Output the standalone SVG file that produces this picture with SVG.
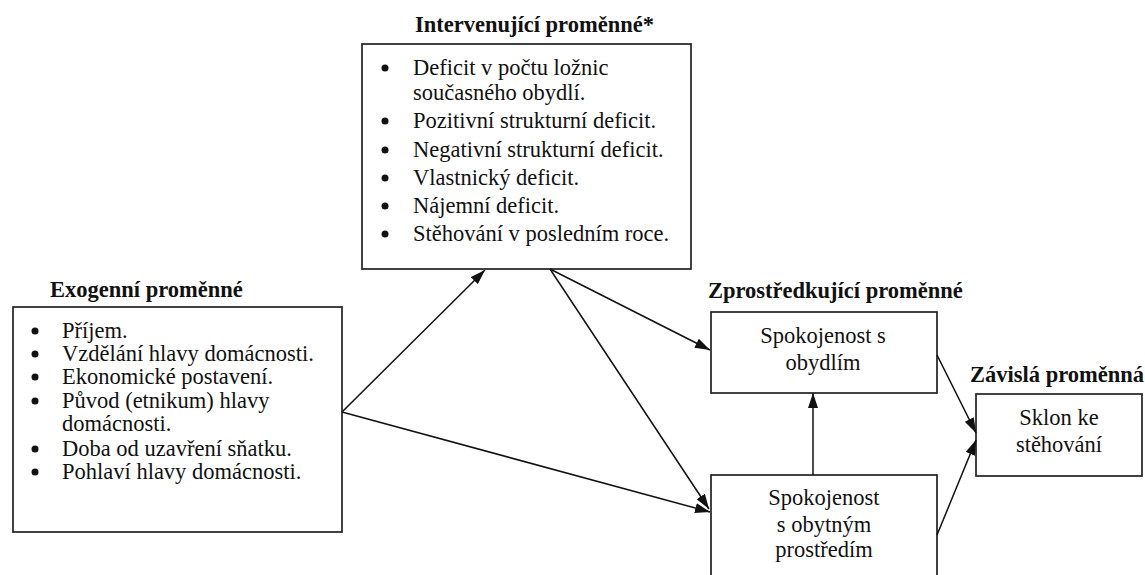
<svg xmlns="http://www.w3.org/2000/svg" width="1145" height="575" viewBox="0 0 1145 575">
<defs>
<marker id="ah" viewBox="0 0 15 10" refX="15" refY="5" markerWidth="15" markerHeight="10" markerUnits="userSpaceOnUse" orient="auto">
<path d="M0,0 L15,5 L0,10 z" fill="#111"/>
</marker>
<style>
.box{fill:#fff;stroke:#222;stroke-width:1.7}
text{font-family:'Liberation Serif','Times New Roman',serif;fill:#111}
.t{font-size:22.5px}
.h{font-size:22.5px;font-weight:bold}
.c{text-anchor:middle}
.dot{fill:#111}
.con{stroke:#111;stroke-width:1.5;fill:none;marker-end:url(#ah)}
</style>
</defs>
<rect width="1145" height="575" fill="#fff"/>
<g id="intervening">
<text class="h" x="415" y="32">Intervenující proměnné*</text>
<rect class="box" x="362" y="44" width="329" height="225"/>
<circle class="dot" cx="385" cy="68" r="3.5"/><text class="t" x="413" y="75">Deficit v počtu ložnic</text>
<text class="t" x="413" y="100">současného obydlí.</text>
<circle class="dot" cx="385" cy="121" r="3.5"/><text class="t" x="413" y="128">Pozitivní strukturní deficit.</text>
<circle class="dot" cx="385" cy="150" r="3.5"/><text class="t" x="413" y="157">Negativní strukturní deficit.</text>
<circle class="dot" cx="385" cy="178" r="3.5"/><text class="t" x="413" y="185">Vlastnický deficit.</text>
<circle class="dot" cx="385" cy="206" r="3.5"/><text class="t" x="413" y="213">Nájemní deficit.</text>
<circle class="dot" cx="385" cy="234" r="3.5"/><text class="t" x="413" y="241">Stěhování v posledním roce.</text>
</g>
<g id="exogenous">
<text class="h" x="50" y="297">Exogenní proměnné</text>
<rect class="box" x="13" y="307" width="329" height="225"/>
<circle class="dot" cx="35" cy="331" r="3.5"/><text class="t" x="62" y="338">Příjem.</text>
<circle class="dot" cx="35" cy="354" r="3.5"/><text class="t" x="62" y="361">Vzdělání hlavy domácnosti.</text>
<circle class="dot" cx="35" cy="377" r="3.5"/><text class="t" x="62" y="384">Ekonomické postavení.</text>
<circle class="dot" cx="35" cy="401" r="3.5"/><text class="t" x="62" y="408">Původ (etnikum) hlavy</text>
<text class="t" x="62" y="431">domácnosti.</text>
<circle class="dot" cx="35" cy="449" r="3.5"/><text class="t" x="62" y="456">Doba od uzavření sňatku.</text>
<circle class="dot" cx="35" cy="472" r="3.5"/><text class="t" x="62" y="479">Pohlaví hlavy domácnosti.</text>
</g>
<g id="mediating-title">
<text class="h" x="708" y="298">Zprostředkující proměnné</text>
</g>
<g id="satisfaction-dwelling">
<rect class="box" x="711" y="312" width="226" height="81"/>
<text class="t c" x="823" y="343">Spokojenost s</text>
<text class="t c" x="823" y="370">obydlím</text>
</g>
<g id="satisfaction-environment">
<rect class="box" x="711" y="475" width="226" height="110"/>
<text class="t c" x="824" y="505">Spokojenost</text>
<text class="t c" x="824" y="532">s obytným</text>
<text class="t c" x="824" y="557">prostředím</text>
</g>
<g id="dependent">
<text class="h" x="970" y="382">Závislá proměnná</text>
<rect class="box" x="976" y="394" width="166" height="82"/>
<text class="t c" x="1059" y="425">Sklon ke</text>
<text class="t c" x="1059" y="452">stěhování</text>
</g>
<g id="connectors">
<line class="con" x1="342" y1="412" x2="485" y2="270"/>
<line class="con" x1="342" y1="412" x2="710" y2="512"/>
<line class="con" x1="550" y1="269" x2="710" y2="350"/>
<line class="con" x1="550" y1="269" x2="709" y2="509"/>
<line class="con" x1="813" y1="475" x2="813" y2="393"/>
<line class="con" x1="937" y1="355" x2="976" y2="433"/>
<line class="con" x1="937" y1="535" x2="976" y2="440"/>
</g>
</svg>
